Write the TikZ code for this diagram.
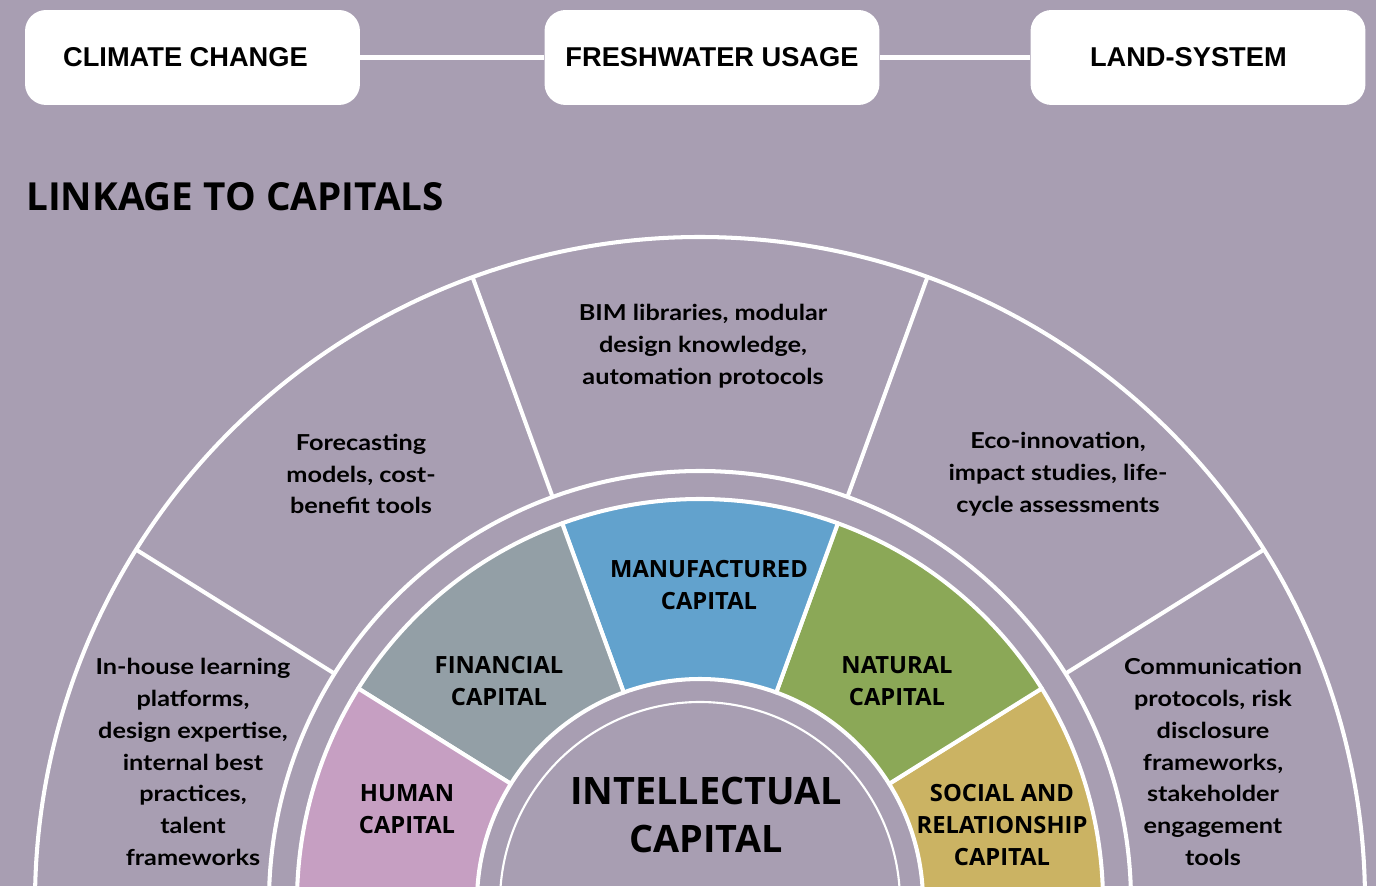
\documentclass[tikz,border=0pt]{standalone}
\usepackage{fontspec}
\setmainfont{Lato}[FakeStretch=1.15]
\newfontfamily\capsfont{Open Sans}
\newfontfamily\boxfont{Liberation Sans}
\usetikzlibrary{calc}
\definecolor{bgpl}{HTML}{A89EB2}
\definecolor{human}{HTML}{C69FC2}
\definecolor{finan}{HTML}{939FA6}
\definecolor{manuf}{HTML}{62A2CD}
\definecolor{natur}{HTML}{8BA857}
\definecolor{social}{HTML}{CBB363}
\tikzset{
  topbox/.style={rounded corners=12pt, fill=white, minimum width=6.7cm, minimum height=1.9cm,
                 font=\boxfont\bfseries\fontsize{15.5}{18}\selectfont, text=black},
  joinline/.style={draw=white, line width=2.3pt},
  ringline/.style={draw=white, line width=2.3pt},
  seg/.style={draw=white, line width=2.3pt, line join=round},
  notetext/.style={align=center, font=\bfseries\fontsize{12.5}{18.1}\selectfont, text=black},
  capslabel/.style={align=center, font=\capsfont\bfseries\fontsize{13.5}{18.1}\selectfont, text=black},
  bigcaps/.style={align=center, font=\capsfont\bfseries\fontsize{21.5}{27.5}\selectfont, text=black},
  headline/.style={font=\capsfont\bfseries\fontsize{22}{26}\selectfont, text=black, inner sep=0pt},
}

\begin{document}
\begin{tikzpicture}[x=0.02cm, y=0.02cm]
  \fill[bgpl] (0,0) rectangle (1376,886);
  \clip (0,0) rectangle (1376,886);

  \node[topbox] (cc) at (192.5,828.5) {CLIMATE CHANGE\hspace*{8pt}};
  \node[topbox] (fw) at (712,828.5) {FRESHWATER USAGE};
  \node[topbox] (ls) at (1198,828.5) {LAND-SYSTEM\hspace*{11pt}};
  \draw[joinline] (cc) -- (fw);
  \draw[joinline] (fw) -- (ls);

  \node[headline, anchor=west] (ttl) at (26,689.5) {LINKAGE TO CAPITALS};

  \begin{scope}[shift={(700,-16)}]
    \foreach \a/\b/\col in {-3/32/social, 32/70/natur, 70/110/manuf, 110/148/finan, 148/183/human}
      \filldraw[seg, fill=\col] (\a:403) arc[start angle=\a, end angle=\b, radius=403]
        -- (\b:223) arc[start angle=\b, end angle=\a, radius=223] -- cycle;
    \draw[ringline] (-3:665) arc[start angle=-3, end angle=183, radius=665];
    \draw[ringline] (-3:431) arc[start angle=-3, end angle=183, radius=431];
    \foreach \a in {32,70,110,148}
      \draw[ringline] (\a:431) -- (\a:665);
    \draw[white, line width=1.2pt] (0,0) circle[radius=200];
  \end{scope}

  \node[notetext] (bim) at (703,540) {BIM libraries, modular\\design knowledge,\\automation protocols};
  \node[notetext] (fore) at (361,412) {Forecasting\\models, cost-\\benefit tools};
  \node[notetext] (eco) at (1058,412) {Eco-innovation,\\impact studies, life-\\cycle assessments};
  \node[notetext] (inh) at (193,124) {In-house learning\\platforms,\\design expertise,\\internal best\\practices,\\talent\\frameworks};
  \node[notetext] (comm) at (1213,124) {Communication\\protocols, risk\\disclosure\\frameworks,\\stakeholder\\engagement\\tools};

  \node[capslabel] (manc) at (709,301) {MANUFACTURED\\CAPITAL};
  \node[capslabel] (finc) at (499,205) {FINANCIAL\\CAPITAL};
  \node[capslabel] (natc) at (897,205) {NATURAL\\CAPITAL};
  \node[capslabel] (humc) at (407,77) {HUMAN\\CAPITAL};
  \node[capslabel] (socc) at (1002,61) {SOCIAL AND\\RELATIONSHIP\\CAPITAL};
  \node[bigcaps] (intc) at (706,71) {INTELLECTUAL\\CAPITAL};
\end{tikzpicture}
\end{document}
